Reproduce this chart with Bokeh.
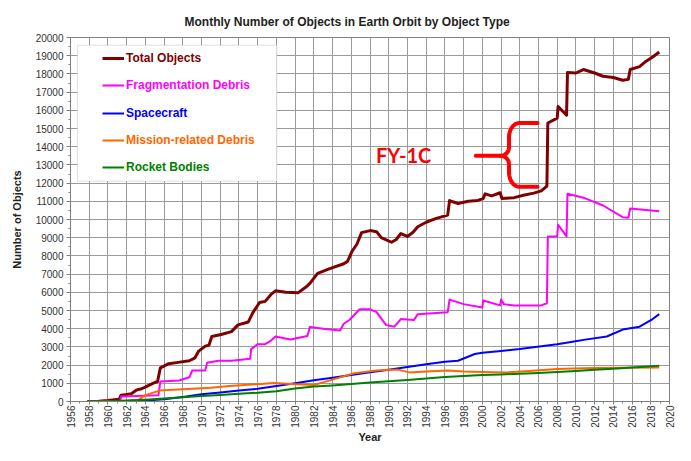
from bokeh.plotting import figure
from bokeh.models import FixedTicker, BoxAnnotation, Legend, LegendItem, Label, Range1d
from bokeh.embed import file_html
from bokeh.resources import INLINE
import numpy as np

# ---------------- data ----------------
total_years = [1957.8, 1959, 1960, 1961.2, 1961.4, 1962, 1962.5, 1963.1, 1963.6, 1964.2, 1964.8,
               1965.3, 1965.6, 1966.5, 1967.5, 1968.7, 1969.3, 1969.7, 1970.4, 1970.8, 1971.1,
               1972.1, 1973.2, 1973.9, 1975, 1975.5, 1976.2, 1976.8, 1977.4, 1977.9, 1979,
               1980.3, 1981.3, 1981.6, 1982.4, 1983.7, 1985.2, 1985.6, 1986.1, 1986.6, 1987.1,
               1988, 1988.7, 1989.2, 1990.3, 1990.8, 1991.3, 1992, 1992.6, 1993.1, 1994, 1995,
               1996.3, 1996.5, 1997.4, 1998.5, 1999.5, 2000.1, 2000.3, 2001, 2001.9, 2002.1,
               2003.4, 2004.5, 2005.5, 2006.3, 2006.9, 2007.0, 2008.0, 2008.1, 2009.0, 2009.1,
               2010, 2010.8, 2012, 2012.9, 2014, 2015, 2015.6, 2015.8, 2016.8, 2017.5, 2018.2,
               2018.9]
total_vals = [0, 20, 50, 120, 350, 380, 430, 640, 700, 850, 1000,
              1100, 1850, 2080, 2150, 2240, 2400, 2770, 3040, 3100, 3570,
              3680, 3840, 4210, 4370, 4900, 5440, 5500, 5870, 6080, 6000,
              5970, 6350, 6500, 7040, 7300, 7570, 7700, 8270, 8640, 9280,
              9390, 9330, 9000, 8750, 8900, 9230, 9070, 9300, 9600, 9850, 10050,
              10240, 11040, 10880, 11000, 11050, 11150, 11410, 11300, 11470, 11150,
              11200, 11350, 11450, 11570, 11840, 15300, 15570, 16210, 15730, 18080,
              18050, 18240, 18050, 17870, 17800, 17650, 17700, 18240, 18400, 18700, 18930,
              19200]

frag_years = [1961.3, 1961.4, 1963, 1965.4, 1965.6, 1967.6, 1968.7, 1969, 1970.4, 1970.6,
              1971.8, 1973.2, 1975.2, 1975.3, 1976, 1976.8, 1977.3, 1977.9, 1979.5, 1981.3,
              1981.6, 1983, 1984.8, 1985.2, 1985.8, 1986.9, 1988, 1988.7, 1989.7, 1990.6,
              1991.3, 1992.7, 1993.1, 1996.3, 1996.5, 1998, 2000, 2000.1, 2001.9, 2002,
              2002.3, 2003.4, 2006.3, 2006.9, 2007.0, 2008, 2008.1, 2009, 2009.1, 2010.8,
              2012.9, 2015, 2015.6, 2015.8, 2018.9]
frag_vals = [0, 280, 300, 350, 1100, 1150, 1330, 1700, 1710, 2130,
             2240, 2240, 2350, 2880, 3150, 3150, 3300, 3570, 3410, 3600,
             4100, 4000, 3900, 4270, 4480, 5070, 5070, 4910, 4210, 4110,
             4530, 4480, 4800, 4910, 5600, 5350, 5170, 5550, 5280, 5600,
             5350, 5280, 5280, 5400, 9070, 9070, 9710, 9070, 11410, 11200,
             10770, 10130, 10100, 10610, 10450]

sc_years = [1957.8, 1960, 1962, 1964, 1966, 1968, 1970, 1972, 1974, 1976, 1978, 1980, 1982,
            1984, 1986, 1988, 1990, 1992, 1994, 1996, 1997.4, 1999.2, 2000, 2002, 2004,
            2006.3, 2008, 2009.8, 2011, 2013.3, 2015, 2016.8, 2018.2, 2018.9]
sc_vals = [0, 10, 30, 60, 120, 250, 400, 500, 600, 700, 850, 1000, 1170,
           1300, 1450, 1600, 1750, 1900, 2050, 2180, 2240, 2610, 2680, 2780, 2880,
           3040, 3150, 3300, 3400, 3570, 3950, 4110, 4530, 4800]

mrd_years = [1957.8, 1962, 1963.3, 1964, 1965.5, 1967, 1969, 1971, 1973, 1975, 1977.8, 1980,
             1982, 1984, 1986.3, 1988.7, 1990, 1991, 1992.2, 1994, 1996.3, 1998, 2000,
             2002.7, 2005, 2008, 2009.8, 2012, 2015, 2018.9]
mrd_vals = [0, 30, 100, 350, 600, 650, 700, 750, 850, 920, 1010, 950,
            910, 1200, 1550, 1700, 1750, 1750, 1600, 1650, 1710, 1650, 1620,
            1600, 1680, 1780, 1810, 1840, 1860, 1870]

rb_years = [1957.8, 1960, 1962, 1964, 1966, 1968, 1970, 1972, 1974, 1976, 1978, 1980, 1982,
            1984, 1986, 1988, 1990, 1992, 1994, 1996, 1998, 2000, 2002, 2004, 2006, 2008,
            2010, 2012, 2014, 2016, 2018.9]
rb_vals = [0, 20, 50, 100, 170, 240, 300, 360, 430, 480, 560, 720, 820,
           880, 960, 1040, 1110, 1180, 1260, 1340, 1400, 1450, 1490, 1520, 1560, 1620,
           1680, 1740, 1800, 1870, 1970]

series_names = ["Total Objects", "Fragmentation Debris", "Spacecraft",
                "Mission-related Debris", "Rocket Bodies"]
series_colors = ["#800000", "#FF00FF", "#0000FF", "#FF6600", "#008000"]
series_widths = [3, 2, 2, 2, 2]

x_ticks = list(range(1956, 2021, 2))
y_ticks = list(range(0, 20001, 1000))

title_text = "Monthly Number of Objects in Earth Orbit by Object Type"
annot_text = "FY-1C"

# ---------------- figure ----------------
FRAME_BOTTOM = 401  # expected pixel row of the frame bottom (used for legend rows)
p = figure(width=675, height=445, output_backend="svg", toolbar_location=None,
           x_range=Range1d(1956, 2020), y_range=Range1d(0, 20000),
           min_border_left=70, min_border_right=6, min_border_top=37, min_border_bottom=44,
           title=title_text)
p.background_fill_color = "white"
p.border_fill_color = "white"
p.outline_line_color = "#808080"

p.title.text_font = "Liberation Sans"
p.title.text_font_size = "12px"
p.title.text_font_style = "bold"
p.title.text_color = "#222222"
p.title.align = "left"
p.title.offset = 114
p.title.standoff = 18

p.xaxis.ticker = FixedTicker(ticks=x_ticks, minor_ticks=list(range(1956, 2021)))
p.yaxis.ticker = FixedTicker(ticks=y_ticks, minor_ticks=list(range(0, 20001, 500)))
p.xgrid.ticker = FixedTicker(ticks=x_ticks)
p.ygrid.ticker = FixedTicker(ticks=y_ticks)
for g in (p.xgrid, p.ygrid):
    g.grid_line_color = "#9a9a9a"
    g.grid_line_width = 1

for ax in (p.xaxis, p.yaxis):
    ax.axis_line_color = "#808080"
    ax.major_tick_line_color = "#808080"
    ax.minor_tick_line_color = "#808080"
    ax.major_tick_in = 0
    ax.minor_tick_in = 0
    ax.major_tick_out = 4
    ax.minor_tick_out = 2
    ax.major_label_text_font = "Liberation Sans"
    ax.major_label_text_font_size = "10px"
    ax.major_label_text_color = "#333333"
    ax.axis_label_text_font = "Liberation Sans"
    ax.axis_label_text_font_size = "11px"
    ax.axis_label_text_font_style = "bold"
    ax.axis_label_text_color = "#222222"

p.xaxis.axis_label = "Year"
p.yaxis.axis_label = "Number of Objects"
p.xaxis.major_label_orientation = np.pi / 2
p.xaxis.major_label_standoff = 1
p.xaxis.major_tick_out = 3
p.xaxis.axis_label_standoff = 0
p.yaxis.major_label_standoff = 3
p.yaxis.axis_label_standoff = 10

# legend box
p.add_layout(BoxAnnotation(left=1956.74, right=1978.04, bottom=12100, top=19573,
                           fill_color="white", fill_alpha=1.0,
                           line_color="#9a9a9a", line_width=1))

data = [(total_years, total_vals), (frag_years, frag_vals), (sc_years, sc_vals),
        (mrd_years, mrd_vals), (rb_years, rb_vals)]
renderers = []
for (xs, ys), c, w in zip(data, series_colors, series_widths):
    renderers.append(p.line(xs, ys, line_color=c, line_width=w, line_join="round"))

row_centers = [58.1, 85.4, 112.7, 140.0, 167.4]
for r, name, c, yc in zip(renderers, series_names, series_colors, row_centers):
    leg = Legend(items=[LegendItem(label=name, renderers=[r])],
                 location=(32, FRAME_BOTTOM - yc - 7),
                 background_fill_alpha=0, border_line_alpha=0, padding=0, margin=0,
                 spacing=0, glyph_width=22, glyph_height=14, label_height=14,
                 label_standoff=2, label_text_color=c, label_text_font="Liberation Sans",
                 label_text_font_size="12px", label_text_font_style="bold")
    p.add_layout(leg)

# FY-1C annotation (curly brace)
def quarter(p0, corner, p1, n=16):
    k = 0.552
    c0 = (p0[0] + k * (corner[0] - p0[0]), p0[1] + k * (corner[1] - p0[1]))
    c1 = (p1[0] + k * (corner[0] - p1[0]), p1[1] + k * (corner[1] - p1[1]))
    t = np.linspace(0, 1, n)
    bx = (1-t)**3*p0[0] + 3*(1-t)**2*t*c0[0] + 3*(1-t)*t**2*c1[0] + t**3*p1[0]
    by = (1-t)**3*p0[1] + 3*(1-t)**2*t*c0[1] + 3*(1-t)*t**2*c1[1] + t**3*p1[1]
    return list(bx), list(by)

arm_end, spine, tip, ptr = 2005.9, 2002.85, 2001.9, 1999.3
rx = 1.1      # horizontal radius of the outer brace corners (years)
ry = 800      # vertical radius of the outer brace corners (objects)
top, mid, bot = 15300, 13500, 11800
bx, by = [arm_end], [top]
for seg in [((spine + rx, top), (spine, top), (spine, top - ry)),
            ((spine, mid + 450), (spine, mid), (tip, mid)),
            ((tip, mid), (spine, mid), (spine, mid - 450)),
            ((spine, bot + ry), (spine, bot), (spine + rx, bot))]:
    sx, sy = quarter(*seg)
    bx += sx
    by += sy
bx.append(arm_end)
by.append(bot)
p.line(bx, by, line_color="#FF0000", line_width=4, line_join="round", line_cap="round")
p.line([ptr, tip], [mid, mid], line_color="#FF0000", line_width=4, line_cap="round")

p.add_layout(Label(x=1991.6, y=13550, text=annot_text, text_color="#FF0000",
                   text_font="Lato", text_font_size="20px", text_font_style="bold",
                   text_align="center", text_baseline="middle"))

open("out.html", "w").write(file_html(p, INLINE))
